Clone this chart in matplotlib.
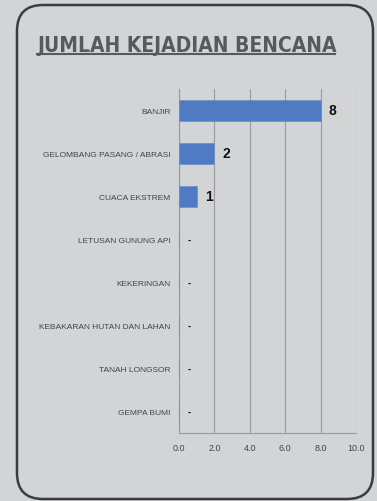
import matplotlib.pyplot as plt
from matplotlib.patches import FancyBboxPatch
from matplotlib import font_manager

categories = [
    "BANJIR",
    "GELOMBANG PASANG / ABRASI",
    "CUACA EKSTREM",
    "LETUSAN GUNUNG API",
    "KEKERINGAN",
    "KEBAKARAN HUTAN DAN LAHAN",
    "TANAH LONGSOR",
    "GEMPA BUMI",
]
values = [8, 2, 1, 0, 0, 0, 0, 0]
xticks = [0, 2, 4, 6, 8, 10]

bg = "#d3d4d6"

# condensed bold face for the title, if there is one
cands = [f for f in font_manager.fontManager.ttflist
         if f.weight in ("bold", 700) and
         ("Narrow" in f.name or "Condensed" in f.name or "condensed" in str(f.stretch))]
if cands:
    title_prop = font_manager.FontProperties(fname=cands[0].fname, size=15)
else:
    title_prop = font_manager.FontProperties(family="Liberation Sans", weight="bold", size=14)

fig = plt.figure(figsize=(3.77, 5.02), dpi=100)
fig.patch.set_facecolor(bg)

# frame in pixel coords
bgax = fig.add_axes([0, 0, 1, 1])
bgax.set_xlim(0, 377)
bgax.set_ylim(502, 0)
bgax.axis("off")
bgax.add_patch(FancyBboxPatch(
    (17, 6), 356, 494,
    boxstyle="round,pad=0,rounding_size=26",
    facecolor="none", edgecolor="#3c3c3c", linewidth=1.8
))
bgax.text(37, 52, "JUMLAH KEJADIAN BENCANA", fontproperties=title_prop,
          color="#595959", va="baseline", ha="left")
bgax.plot([37, 335], [54.5, 54.5], color="#595959", linewidth=1.5)

ax = fig.add_axes([0.4748, 0.1355, 0.4695, 0.6853])
ax.set_facecolor("none")
ax.barh(range(len(categories)), values, height=0.5, color="#4f7bc4",
        edgecolor="#6a8fcc", linewidth=0.5, zorder=3)

for i, v in enumerate(values):
    label = str(v) if v > 0 else "-"
    ax.annotate(label, (v, i), xytext=(6, 0),
                textcoords="offset points", ha="left", va="center",
                fontsize=10 if v > 0 else 7, fontweight="bold",
                family="Liberation Sans", color="#111111")

ax.set_ylim(len(categories) - 0.5, -0.5)
ax.set_xlim(0, 10)
ax.set_xticks(xticks)
ax.set_xticklabels([f"{t:.1f}" for t in xticks], family="Liberation Sans",
                   fontsize=6.5, color="#444444")
ax.set_yticks(range(len(categories)))
ax.set_yticklabels(categories, family="Liberation Sans", fontsize=6,
                   color="#444444")
ax.tick_params(length=0, pad=6)
ax.tick_params(axis="x", pad=7)
ax.grid(axis="x", color="#9a9a9a", linewidth=0.8, zorder=0)
for s in ["top", "right"]:
    ax.spines[s].set_visible(False)
for s in ["left", "bottom"]:
    ax.spines[s].set_color("#9a9a9a")
    ax.spines[s].set_linewidth(0.8)

fig.savefig("out.png", dpi=100, facecolor=bg)
